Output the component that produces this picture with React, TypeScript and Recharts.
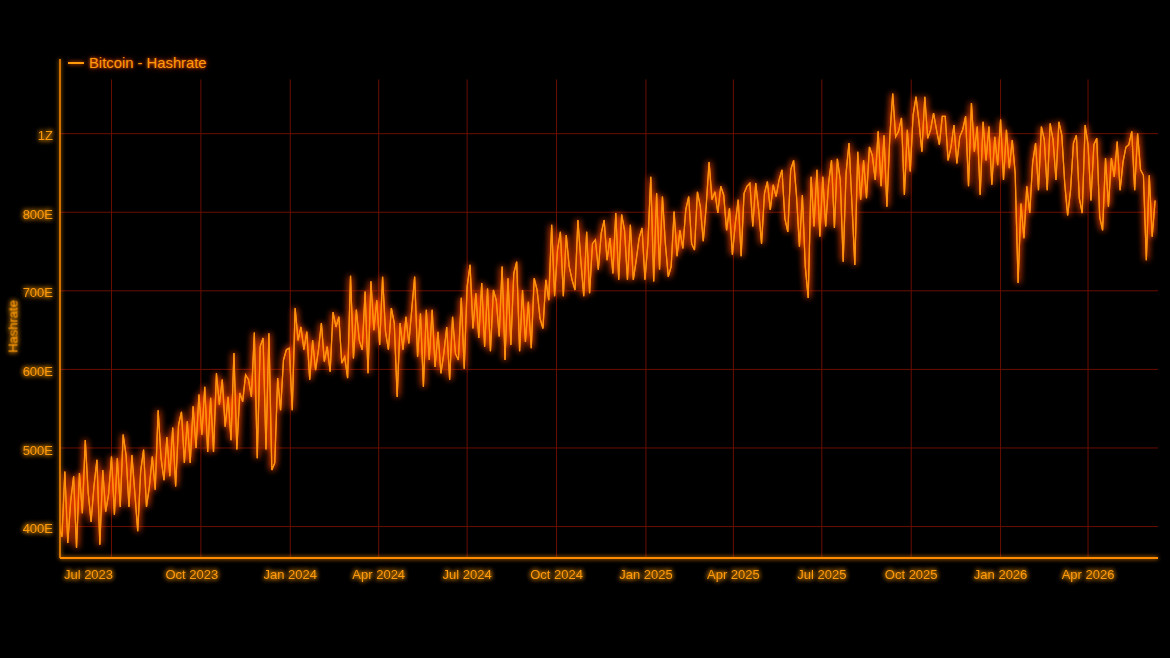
import React from 'react';
import { LineChart, Line, XAxis, YAxis, ReferenceLine, Legend } from 'recharts';

const SERIES_NAME = 'Bitcoin - Hashrate';
const Y_AXIS_TITLE = 'Hashrate';
const DAY_MS = 86400000;
const START_DATE = Date.UTC(2023, 4, 8);
const STEP_DAYS = 3;

// Hashrate in EH/s, one reading every 3 days
const hashrate2023 = [
  400, 387, 470, 379, 432, 464, 373, 468, 417, 510, 443, 406, 452, 485, 377, 472, 419, 441, 489, 415,
  487, 425, 517, 491, 425, 491, 443, 394, 470, 498, 425, 451, 489, 447, 548, 487, 459, 514, 464, 526,
  451, 529, 546, 481, 534, 481, 553, 500, 568, 517, 578, 495, 564, 495, 595, 555, 587, 527, 565, 510,
  621, 498, 570, 559, 593, 587, 565, 647, 487, 629, 640, 498, 646, 472, 481, 589, 548, 612, 625, 627,
];
const hashrate2024 = [
  548, 678, 637, 654, 625, 648, 587, 637, 599, 625, 659, 610, 629, 597, 673, 654,
  667, 608, 616, 589, 719, 614, 676, 637, 625, 699, 595, 712, 650, 688, 631, 718, 648, 625, 678, 659,
  565, 659, 625, 667, 633, 676, 718, 616, 671, 578, 676, 612, 676, 603, 648, 595, 620, 654, 587, 667,
  620, 612, 691, 601, 705, 733, 652, 697,
  640, 710, 629, 703, 623, 701, 688, 642, 731, 612, 716, 631, 722, 737, 623, 701, 635, 686, 627, 716,
  701, 665, 652, 714, 688, 784, 693, 752, 775, 693, 771, 731, 714, 701, 790, 739, 693, 775, 697, 760,
  765, 727, 773, 790, 739, 767, 722, 799,
  714, 797, 777, 714, 784, 714, 739, 767, 780, 714,
];
const hashrate2025 = [
  760, 845, 712, 824, 727, 820, 760, 718, 731, 801, 744, 777, 754, 803, 820, 760, 752, 826, 807, 763,
  807, 864, 816, 826, 799, 833, 822, 777, 805, 746, 786, 816, 744, 824, 833, 837, 782, 837, 803, 760,
  824, 839, 803, 835, 820, 841,
  854, 792, 775, 854, 866, 820, 756, 822, 731, 691, 845, 782, 854, 769, 845, 782, 837, 866, 780, 868,
  841, 737, 850, 888, 811, 733, 877, 816, 866, 818, 883, 872, 841, 903, 833, 898, 807, 896, 951, 896,
  903, 920, 822, 905, 852, 924, 947, 915, 877, 947, 894, 905, 926, 905, 886, 922, 922, 866, 883, 911,
  862, 896, 905, 922,
  833, 939, 877, 909, 822, 915, 866, 909, 835, 896, 860,
];
const hashrate2026 = [
  918, 841, 905, 856, 892, 850, 710, 811, 767, 833, 799, 863, 888, 828, 909, 892, 828, 913, 892, 841,
  915, 898, 837, 796, 828, 888, 898, 818, 799, 911, 886, 815, 886, 894, 794, 777, 869, 807, 869, 845,
  890, 828, 864, 883, 886, 903, 828, 900, 854, 847, 739, 847, 769, 815,
];

const xTickDates = [
  '2023-07-01', '2023-10-01', '2024-01-01', '2024-04-01', '2024-07-01', '2024-10-01',
  '2025-01-01', '2025-04-01', '2025-07-01', '2025-10-01', '2026-01-01', '2026-04-01',
];
const MONTH_NAMES = ['Jan', 'Feb', 'Mar', 'Apr', 'May', 'Jun', 'Jul', 'Aug', 'Sep', 'Oct', 'Nov', 'Dec'];
const yTicks = [400, 500, 600, 700, 800, 900];
const yTickLabels = ['400E', '500E', '600E', '700E', '800E', '1Z'];
const Y_DOMAIN: [number, number] = [360, 995];
const X_DOMAIN: [number, number] = [START_DATE + 1 * DAY_MS, START_DATE + 1131 * DAY_MS];
const V_GRID_TOP = 969;

// styling
const FONT = "'Liberation Sans', Arial, Helvetica, sans-serif";
const TEXT_COLOR = '#ff9a0a';
const AXIS_COLOR = '#ff8c00';
const GRID_COLOR = '#6a0e00';
const LINE_CORE = '#ff930f';
const LINE_HALO = '#ff4400';
const xLabelShift: Record<string, number> = { 'Jul 2023': -23, 'Oct 2023': -9 };

const allValues = [...hashrate2023, ...hashrate2024, ...hashrate2025, ...hashrate2026];
const data = allValues.map((v, i) => ({ t: START_DATE + i * STEP_DAYS * DAY_MS, hashrate: v }));
const xTicks = xTickDates.map((d) => Date.parse(d + 'T00:00:00Z'));

const fmtMonth = (t: number) => {
  const d = new Date(t);
  return `${MONTH_NAMES[d.getUTCMonth()]} ${d.getUTCFullYear()}`;
};

const XTick = (props: any) => {
  const { x, y, payload } = props;
  const label = fmtMonth(payload.value);
  return (
    <text
      x={x + (xLabelShift[label] ?? 0)}
      y={y}
      dy="0.71em"
      textAnchor="middle"
      fill={TEXT_COLOR}
      fontSize={13}
      fontFamily={FONT}
      filter="url(#textGlow)"
    >
      {label}
    </text>
  );
};

const YTick = (props: any) => {
  const { x, y, payload } = props;
  const idx = yTicks.indexOf(payload.value);
  const label = idx >= 0 ? yTickLabels[idx] : String(payload.value);
  return (
    <text
      x={x}
      y={y + 2}
      dy="0.355em"
      textAnchor="end"
      fill={TEXT_COLOR}
      fontSize={13}
      fontFamily={FONT}
      filter="url(#textGlow)"
    >
      {label}
    </text>
  );
};

const YTitle = (props: any) => {
  const vb = props.viewBox || { x: 0, y: 59, width: 60, height: 499 };
  const cx = vb.x + 13;
  const cy = vb.y + vb.height / 2 + 18;
  return (
    <text
      x={cx}
      y={cy}
      transform={`rotate(-90 ${cx} ${cy})`}
      textAnchor="middle"
      dominantBaseline="central"
      fill={TEXT_COLOR}
      fontSize={13}
      fontFamily={FONT}
      filter="url(#textGlow)"
    >
      {Y_AXIS_TITLE}
    </text>
  );
};

const renderLegend = (props: any) => {
  const items = (props.payload || []).filter((p: any) => p.type !== 'none');
  return (
    <div style={{ display: 'flex', flexDirection: 'column' }}>
      {items.map((p: any) => (
        <div key={p.value} style={{ display: 'flex', alignItems: 'center', whiteSpace: 'nowrap' }}>
          <span
            style={{
              display: 'inline-block',
              width: 16,
              height: 0,
              borderTop: `2px solid ${TEXT_COLOR}`,
              marginRight: 5,
              boxShadow: '0 0 4px #ff5a00',
            }}
          />
          <span
            style={{
              color: TEXT_COLOR,
              fontFamily: FONT,
              fontSize: 14.8,
              lineHeight: '16px',
              textShadow: '0 0 3px #ff5a00, 0 0 6px rgba(255,80,0,0.7)',
            }}
          >
            {p.value}
          </span>
        </div>
      ))}
    </div>
  );
};

export default function App() {
  return (
    <div
      style={{
        position: 'absolute',
        left: 0,
        top: 0,
        width: 1170,
        height: 658,
        background: '#000',
        overflow: 'hidden',
      }}
    >
      <LineChart width={1170} height={658} data={data} margin={{ top: 59, right: 12, bottom: 0, left: 0 }}>
        <defs>
          <filter id="textGlow" x="-30%" y="-60%" width="160%" height="220%">
            <feGaussianBlur in="SourceGraphic" stdDeviation="2.4" result="blur" />
            <feMerge>
              <feMergeNode in="blur" />
              <feMergeNode in="blur" />
              <feMergeNode in="SourceGraphic" />
            </feMerge>
          </filter>
          <filter id="axisGlow" filterUnits="userSpaceOnUse" x="0" y="0" width="1170" height="658">
            <feGaussianBlur in="SourceGraphic" stdDeviation="2" result="blur" />
            <feMerge>
              <feMergeNode in="blur" />
              <feMergeNode in="SourceGraphic" />
            </feMerge>
          </filter>
          <filter id="lineHalo" filterUnits="userSpaceOnUse" x="0" y="0" width="1170" height="658">
            <feGaussianBlur in="SourceGraphic" stdDeviation="3" />
          </filter>
          <filter id="lineCore" filterUnits="userSpaceOnUse" x="0" y="0" width="1170" height="658">
            <feGaussianBlur in="SourceGraphic" stdDeviation="0.7" result="b" />
            <feMerge>
              <feMergeNode in="b" />
              <feMergeNode in="SourceGraphic" />
            </feMerge>
          </filter>
        </defs>
        {yTicks.map((v) => (
          <ReferenceLine key={`h${v}`} y={v} stroke={GRID_COLOR} strokeWidth={1} />
        ))}
        {xTicks.map((t) => (
          <ReferenceLine
            key={`v${t}`}
            segment={[
              { x: t, y: Y_DOMAIN[0] },
              { x: t, y: V_GRID_TOP },
            ]}
            stroke={GRID_COLOR}
            strokeWidth={1}
          />
        ))}
        <XAxis
          dataKey="t"
          type="number"
          domain={X_DOMAIN}
          allowDataOverflow
          ticks={xTicks}
          height={100}
          tickLine={false}
          tickSize={6}
          tickMargin={6}
          axisLine={{ stroke: AXIS_COLOR, strokeWidth: 2, filter: 'url(#axisGlow)' }}
          tick={<XTick />}
          interval={0}
        />
        <YAxis
          type="number"
          domain={Y_DOMAIN}
          ticks={yTicks}
          width={60}
          tickLine={false}
          tickSize={5}
          tickMargin={2}
          axisLine={{ stroke: AXIS_COLOR, strokeWidth: 1.5, filter: 'url(#axisGlow)' }}
          tick={<YTick />}
          interval={0}
          allowDataOverflow
          label={{ content: (p: any) => <YTitle {...p} /> }}
        />
        <Legend
          layout="vertical"
          align="center"
          verticalAlign="middle"
          wrapperStyle={{ left: 68, top: 55, width: 'auto', height: 'auto' }}
          content={renderLegend}
        />
        <Line
          type="linear"
          dataKey="hashrate"
          stroke={LINE_HALO}
          strokeWidth={4}
          strokeOpacity={0.9}
          dot={false}
          activeDot={false}
          legendType="none"
          isAnimationActive={false}
          filter="url(#lineHalo)"
        />
        <Line
          type="linear"
          dataKey="hashrate"
          name={SERIES_NAME}
          stroke={LINE_CORE}
          strokeWidth={1.2}
          dot={false}
          activeDot={false}
          isAnimationActive={false}
          filter="url(#lineCore)"
        />
      </LineChart>
    </div>
  );
}
